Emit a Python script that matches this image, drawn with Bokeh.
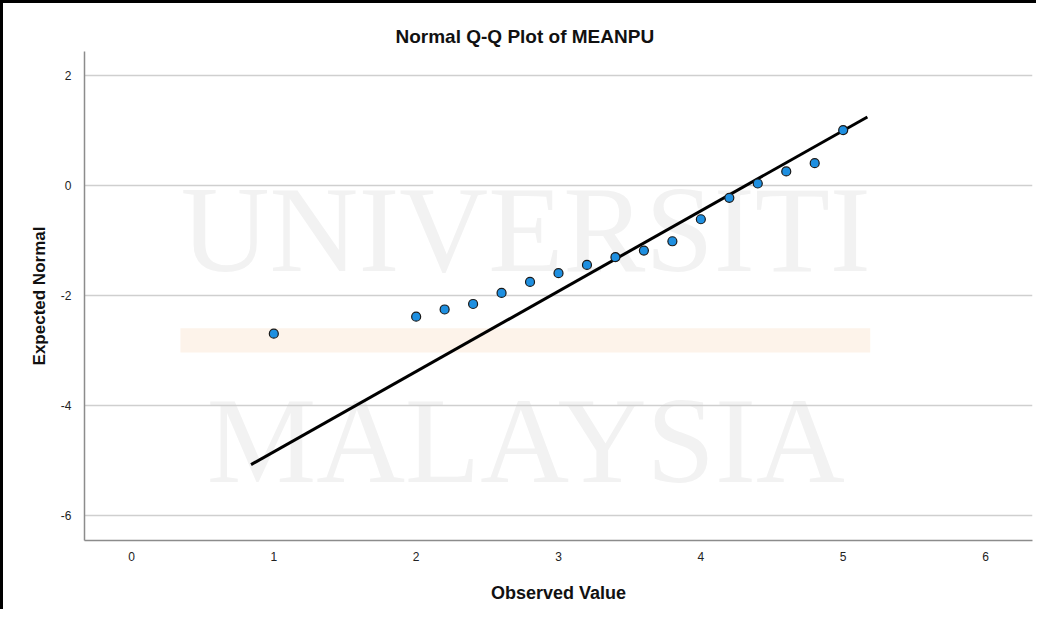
from bokeh.plotting import figure
from bokeh.models import Range1d, FixedTicker, Title, PrintfTickFormatter
from bokeh.core.properties import value
from bokeh.embed import file_html
from bokeh.resources import INLINE

# ---- data ----
observed = [1.0, 2.0, 2.2, 2.4, 2.6, 2.8, 3.0, 3.2, 3.4, 3.6, 3.8, 4.0, 4.2, 4.4, 4.6, 4.8, 5.0]
expected = [-2.69, -2.38, -2.25, -2.15, -1.95, -1.75, -1.59, -1.44, -1.30, -1.18, -1.01,
            -0.61, -0.22, 0.04, 0.26, 0.41, 1.01]
line_x = [0.84, 5.17]
line_y = [-5.07, 1.25]
x_ticks = [0, 1, 2, 3, 4, 5, 6]
y_ticks = [-6, -4, -2, 0, 2]
title_text = "Normal Q-Q Plot of MEANPU"
x_label = "Observed Value"
y_label = "Expected Normal"
watermark_words = ["UNIVERSITI", "MALAYSIA"]

FONT = "Liberation Sans"

p = figure(width=1036, height=609, output_backend="svg", toolbar_location=None,
           x_range=Range1d(-0.33, 6.33), y_range=Range1d(-6.45, 2.44),
           min_border_left=81, min_border_right=7, min_border_top=48, min_border_bottom=72)
p.styles = {"border-left": "3px solid black", "border-top": "3px solid black"}

p.background_fill_color = "white"
p.border_fill_color = "white"
p.outline_line_color = None

# watermark (faint)
p.quad(left=[0.344], right=[5.19], bottom=[-3.03], top=[-2.59],
       fill_color="#fdf3ea", line_color=None, level="underlay")
p.text(x=[2.77, 2.77], y=[-0.79, -4.63], text=watermark_words,
       text_font=value("Liberation Serif"), text_font_size="123px",
       text_color="#f2f2f2", text_align="center", text_baseline="alphabetic",
       level="underlay")

# title
t = Title(text=title_text, align="left", offset=311, standoff=10,
          text_font=FONT, text_font_size="19px", text_font_style="bold",
          text_color="#111111")
p.title = t

# axes
for ax in (p.xaxis[0], p.yaxis[0]):
    ax.major_tick_line_color = None
    ax.minor_tick_line_color = None
    ax.axis_line_color = "#8c8c8c"
    ax.axis_line_width = 1.5
    ax.major_label_text_font = FONT
    ax.major_label_text_font_size = "12px"
    ax.major_label_text_color = "#222222"
    ax.axis_label_text_font = FONT
    ax.axis_label_text_font_style = "bold"
    ax.axis_label_text_color = "#111111"
    ax.formatter = PrintfTickFormatter(format="%d")

p.xaxis.ticker = FixedTicker(ticks=x_ticks)
p.yaxis.ticker = FixedTicker(ticks=y_ticks)
p.xaxis.axis_label = x_label
p.yaxis.axis_label = y_label
p.xaxis.axis_label_text_font_size = "18px"
p.yaxis.axis_label_text_font_size = "17px"
p.xaxis.major_label_standoff = 5
p.xaxis.axis_label_standoff = 19
p.yaxis.major_label_standoff = 7
p.yaxis.axis_label_standoff = 9

p.xgrid.grid_line_color = None
p.ygrid.grid_line_color = "#cfcfcf"
p.ygrid.grid_line_width = 1.5

# reference line and points
p.line(line_x, line_y, line_color="black", line_width=3)
p.scatter(observed, expected, size=9, fill_color="#1e8fe0", line_color="#1a1a1a",
          line_width=1.2)

open("out.html", "w").write(file_html(p, INLINE))
